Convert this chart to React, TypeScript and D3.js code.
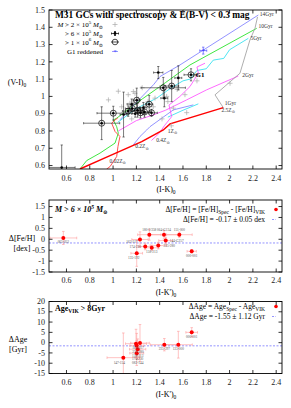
import * as d3 from 'd3';

// ---------- shared axis data ----------
const xTicks = [0.6, 0.8, 1, 1.2, 1.4, 1.6, 1.8, 2, 2.2, 2.4];
const vTicks = [0.6, 0.7, 0.8, 0.9, 1, 1.1, 1.2, 1.3, 1.4, 1.5];
const fehTicks = [-1.5, -1, -0.5, 0, 0.5, 1, 1.5];
const ageTicks = [-15, -10, -5, 0, 5, 10, 15, 20];

// ---------- panel 1: model tracks (I-K, V-I) ----------
const track1Gyr = [[0.716, 0.58], [0.945, 0.649], [1.246, 0.738], [1.431, 0.806], [1.489, 0.841], [1.946, 0.935]];
const track002Z = [[0.945, 0.58], [0.974, 0.594], [1.031, 0.652], [1.042, 0.71], [1.059, 0.768], [1.017, 0.797], [0.988, 0.845], [1.017, 0.864], [1.04, 0.875]];
const track10Gyr = [[0.716, 0.58], [0.774, 0.629], [0.888, 0.672], [1.017, 0.73], [1.045, 0.787], [1.031, 0.825], [1.002, 0.864], [1.031, 0.874], [1.25, 0.985], [1.45, 1.08], [1.66, 1.182], [2.233, 1.394]];
const track14Gyr = [[1.06, 0.865], [1.2, 0.965], [1.35, 1.07], [1.403, 1.115], [1.574, 1.182], [2.247, 1.471]];
const track02Z = [[1.174, 0.72], [1.231, 0.768], [1.289, 0.806], [1.317, 0.825], [1.517, 0.922], [1.689, 0.951]];
const track5Gyr = [[1.04, 0.85], [1.2, 0.93], [1.374, 0.99], [1.5, 1.05], [1.6, 1.09], [1.66, 1.1], [1.72, 1.15], [1.8, 1.16], [1.86, 1.21], [1.95, 1.22], [2.0, 1.27], [2.161, 1.336]];
const track1Z = [[1.47, 0.88], [1.6, 0.92], [1.732, 0.957]];
const track2Gyr = [[1.045, 0.8], [1.2, 0.86], [1.345, 0.893], [1.45, 0.92], [1.632, 0.98], [1.803, 1.038], [2.075, 1.118]];
const track04Z = [[1.33, 0.745], [1.4, 0.79], [1.44, 0.83], [1.503, 0.883], [1.48, 0.95], [1.574, 1.0], [1.66, 1.057], [1.732, 1.134], [1.72, 1.17], [1.789, 1.192]];
const track25Z = [[1.946, 0.935], [1.875, 1.009], [2.089, 1.134], [2.175, 1.327], [2.218, 1.394], [2.24, 1.46]];

const tracks = [
  { pts: track10Gyr, color: '#11e011', w: 0.8 },
  { pts: track14Gyr, color: '#7777ff', w: 0.8 },
  { pts: track02Z, color: '#7777ff', w: 0.8 },
  { pts: track5Gyr, color: '#22ddee', w: 0.8 },
  { pts: track1Z, color: '#22ddee', w: 0.8 },
  { pts: track2Gyr, color: '#ff44ff', w: 0.8 },
  { pts: track04Z, color: '#ff44ff', w: 0.8 },
  { pts: track25Z, color: '#999999', w: 0.8 },
  { pts: track002Z, color: '#ff2222', w: 0.8 },
  { pts: track1Gyr, color: '#ff0000', w: 1.5 },
];

const ageLabels = ['14Gyr', '10Gyr', '5Gyr', '2Gyr', '1Gyr'];
const ageLabelAt = [[2.25, 1.475], [2.24, 1.405], [2.17, 1.34], [2.1, 1.125], [1.95, 0.96]];
const zLabels = ['2.5Z', '1Z', '0.4Z', '0.2Z', '0.02Z'];
const zLabelAt = [[1.93, 0.91], [1.47, 0.79], [1.37, 0.735], [1.19, 0.7], [0.97, 0.615]];

// faint clusters, M > 2e5
const lightGCs = [
  [0.96, 0.98], [1.045, 1.03], [1.074, 0.94], [1.088, 0.905], [1.13, 1.01], [1.13, 0.905], [1.145, 0.96], [1.174, 0.96],
  [1.174, 1.028], [1.188, 1.018], [1.217, 0.984], [1.23, 0.93], [1.26, 0.905], [1.28, 0.95], [1.3, 0.97], [1.345, 0.94],
  [1.36, 0.99], [1.4, 1.05], [1.46, 1.0], [1.47, 0.97], [1.517, 0.932], [1.55, 1.04], [1.617, 1.01], [1.632, 0.906],
  [1.703, 1.124], [1.72, 1.09], [2.004, 1.076], [1.42, 0.87], [1.5, 0.83], [1.16, 0.87], [1.25, 1.05],
];
// M > 6e5 : x, y, xerr, yerr
const midGCs = [
  [0.559, 0.589, 0.115, 0.13], [1.09, 0.895, 0.03, 0.13], [1.16, 0.955, 0.04, 0.03], [1.26, 0.935, 0.03, 0.03],
  [1.388, 1.138, 0.04, 0.035], [1.44, 0.99, 0.03, 0.05], [1.56, 1.107, 0.03, 0.07], [1.19, 0.9, 0.03, 0.02],
];
// M > 1e6
const heavyGCs = [
  [0.902, 0.845, 0.155, 0.095], [1.002, 0.903, 0.14, 0.04], [1.13, 0.915, 0.05, 0.03], [1.165, 0.93, 0.06, 0.03],
  [1.203, 0.978, 0.03, 0.07], [1.21, 0.92, 0.05, 0.04], [1.235, 0.905, 0.04, 0.03], [1.27, 0.91, 0.05, 0.03],
  [1.31, 0.955, 0.03, 0.05], [1.33, 0.905, 0.05, 0.02], [1.431, 1.05, 0.19, 0.06], [1.503, 1.06, 0.06, 0.09],
  [1.669, 1.125, 0.06, 0.035],
];
const g1Reddened = [1.774, 1.265, 0.03, 0.02];

// ---------- panel 2: Δ[Fe/H] ----------
const fehNames = ['065-052', '163-217', '180-2/358', '064-G134', '151-000', '144-G257', '225-280', '158-213', '174-230', '135-192', '000-001'];
const fehX = [0.573, 1.231, 1.311, 1.437, 1.569, 1.452, 1.388, 1.332, 1.276, 1.203, 1.675];
const fehY = [0.06, -0.01, 0.21, 0.21, 0.21, -0.06, -0.29, -0.39, -0.33, -0.64, -0.55];
const fehXerr = [0.115, 0.07, 0.1, 0.12, 0.11, 0.06, 0.07, 0.06, 0.06, 0.05, 0.04];
const fehYerr = [0.3, 0.35, 0.25, 0.2, 0.12, 0.15, 0.15, 0.12, 0.15, 0.6, 0.08];
const fehMean = -0.17;
// label nudges in px (dx, dy) relative to each point
const fehNudge = [[0, 5.5], [-8, 4], [0, -3.5], [0, -3.5], [0, -3.5], [11, 1.3], [11, 1.3], [0, 5.5], [-10, 1.3], [-3, 6], [0, 5.5]];

// ---------- panel 3: ΔAge ----------
const ageNames = ['147-154', '163-217', '225-280', '158-213', '174-230', '082-144', '235-297', '133-000', '000-001'];
const ageX = [1.088, 1.231, 1.197, 1.203, 1.211, 1.203, 1.44, 1.56, 1.675];
const ageY = [-7.3, -0.2, -0.5, -1.5, -3.2, -5.1, -1.0, -1.0, 5.0];
const ageXerr = [0.14, 0.08, 0.09, 0.06, 0.07, 0.06, 0.12, 0.12, 0.05];
const ageYerr = [12, 9, 7, 6, 5, 6, 3, 6.5, 2.3];
const ageMean = -1.55;
const ageNudge = [[-4, 6], [-2, 6.3], [2, 9.3], [1, 10.8], [0, 11], [1, 11], [0, 5.5], [0, 5.5], [0, 5.5]];

const F = "'Liberation Serif', 'DejaVu Serif', serif";
const X = d3.scaleLinear().domain([0.45, 2.45]).range([49, 282]);

function Frame({ y, yTicks, xTickY }: { y: d3.ScaleLinear<number, number>; yTicks: number[]; xTickY: number }) {
  const [y0, y1] = y.range();
  const [x0, x1] = X.range();
  const t = 3.5;
  return (
    <g>
      <rect x={x0} y={y1} width={x1 - x0} height={y0 - y1} fill="none" stroke="#000" strokeWidth={0.9} />
      {xTicks.map((v) => (
        <g key={'x' + v}>
          <line x1={X(v)} x2={X(v)} y1={y0} y2={y0 - t} stroke="#000" strokeWidth={0.8} />
          <line x1={X(v)} x2={X(v)} y1={y1} y2={y1 + t} stroke="#000" strokeWidth={0.8} />
          <text x={X(v)} y={xTickY} textAnchor="middle" fontSize={8} fontFamily={F} fill="#222">{String(v)}</text>
        </g>
      ))}
      {yTicks.map((v) => (
        <g key={'y' + v}>
          <line x1={x0} x2={x0 + t} y1={y(v)} y2={y(v)} stroke="#000" strokeWidth={0.8} />
          <line x1={x1} x2={x1 - t} y1={y(v)} y2={y(v)} stroke="#000" strokeWidth={0.8} />
          <text x={x0 - 4} y={y(v) + 2.7} textAnchor="end" fontSize={8} fontFamily={F} fill="#222">{String(v)}</text>
        </g>
      ))}
    </g>
  );
}

function ErrBar({ cx, cy, dx0, dx1, dy0, dy1, color, cap, w }: any) {
  return (
    <g stroke={color} strokeWidth={w}>
      <line x1={dx0} x2={dx1} y1={cy} y2={cy} />
      <line x1={cx} x2={cx} y1={dy0} y2={dy1} />
      <line x1={dx0} x2={dx0} y1={cy - cap} y2={cy + cap} />
      <line x1={dx1} x2={dx1} y1={cy - cap} y2={cy + cap} />
      <line x1={cx - cap} x2={cx + cap} y1={dy0} y2={dy0} />
      <line x1={cx - cap} x2={cx + cap} y1={dy1} y2={dy1} />
    </g>
  );
}

const Msun = ({ exp, mant }: { exp: string; mant: string }) => (
  <>
    {mant} × 10<tspan dy={-3.2} fontSize={5}>{exp}</tspan><tspan dy={3.2}> </tspan>
    <tspan fontStyle="italic">M</tspan><tspan dy={2} fontSize={5}>⊙</tspan>
  </>
);

function Panel1() {
  const Y = d3.scaleLinear().domain([0.58, 1.5]).range([169, 10]);
  const line = d3.line<number[]>().x((d) => X(d[0])).y((d) => Y(d[1]));
  const clip = 'clipP1';
  return (
    <g>
      <defs>
        <clipPath id={clip}>
          <rect x={49} y={10} width={233} height={159} />
        </clipPath>
      </defs>
      <g clipPath={`url(#${clip})`}>
        {tracks.map((t, i) => (
          <path key={i} d={line(t.pts) || ''} fill="none" stroke={t.color} strokeWidth={t.w} />
        ))}
        {lightGCs.map((d, i) => (
          <g key={'l' + i} stroke="#aaaaaa" strokeWidth={0.7}>
            <line x1={X(d[0]) - 2.5} x2={X(d[0]) + 2.5} y1={Y(d[1])} y2={Y(d[1])} />
            <line x1={X(d[0])} x2={X(d[0])} y1={Y(d[1]) - 2.5} y2={Y(d[1]) + 2.5} />
          </g>
        ))}
        {[...midGCs, ...heavyGCs].map((d, i) => (
          <g key={'m' + i}>
            <ErrBar cx={X(d[0])} cy={Y(d[1])} dx0={X(d[0] - d[2])} dx1={X(d[0] + d[2])} dy0={Y(d[1] - d[3])} dy1={Y(d[1] + d[3])} color="#222" cap={1.1} w={0.6} />
            <circle cx={X(d[0])} cy={Y(d[1])} r={1.3} fill="#000" />
          </g>
        ))}
        {heavyGCs.map((d, i) => (
          <circle key={'h' + i} cx={X(d[0])} cy={Y(d[1])} r={3} fill="none" stroke="#000" strokeWidth={0.7} />
        ))}
        <ErrBar cx={X(g1Reddened[0])} cy={Y(g1Reddened[1])} dx0={X(g1Reddened[0] - g1Reddened[2])} dx1={X(g1Reddened[0] + g1Reddened[2])} dy0={Y(g1Reddened[1] - g1Reddened[3])} dy1={Y(g1Reddened[1] + g1Reddened[3])} color="#5555ff" cap={1.2} w={0.7} />
        <text x={X(g1Reddened[0])} y={Y(g1Reddened[1]) + 2.5} textAnchor="middle" fontSize={7} fill="#3333ff" fontFamily={F}>*</text>
      </g>
      {ageLabels.map((s, i) => (
        <text key={s} x={X(ageLabelAt[i][0]) + 1} y={Y(ageLabelAt[i][1]) + 2} fontSize={5.5} fontFamily={F} fill="#333">{s}</text>
      ))}
      {zLabels.map((s, i) => (
        <text key={s} x={X(zLabelAt[i][0])} y={Y(zLabelAt[i][1])} fontSize={5.5} fontFamily={F} fill="#333">
          {s}<tspan dy={1.5} fontSize={4}>⊙</tspan>
        </text>
      ))}
      <text x={X(1.669) + 4.5} y={Y(1.125) + 2.5} fontSize={7} fontWeight="bold" fontFamily={F}>G1</text>
      <Frame y={Y} yTicks={vTicks} xTickY={181} />
      {/* legend */}
      <text x={55} y={18} fontSize={9.4} fontWeight="bold" fontFamily={F}>M31 GCs with spectroscopy &amp; E(B-V) &lt; 0.3 mag</text>
      <g fontSize={7} fontFamily={F} textAnchor="end">
        <text x={103} y={27}>
          <tspan fontStyle="italic">M</tspan> &gt; <Msun mant="2" exp="5" />
        </text>
        <text x={103} y={36}>&gt; <Msun mant="6" exp="5" /></text>
        <text x={103} y={44.5}>&gt; <Msun mant="1" exp="6" /></text>
        <text x={103} y={54}>G1 reddened</text>
      </g>
      <g stroke="#aaa" strokeWidth={0.7}>
        <line x1={112.5} x2={117.5} y1={24.5} y2={24.5} />
        <line x1={115} x2={115} y1={22} y2={27} />
      </g>
      <ErrBar cx={115} cy={33.5} dx0={111.5} dx1={118.5} dy0={31.5} dy1={35.5} color="#000" cap={1} w={0.7} />
      <circle cx={115} cy={33.5} r={1.4} />
      <circle cx={115} cy={42} r={2.8} fill="none" stroke="#000" strokeWidth={0.7} />
      <line x1={111} x2={119} y1={42} y2={42} stroke="#000" strokeWidth={0.7} />
      <text x={115} y={54} textAnchor="middle" fontSize={7} fill="#3333ff" fontFamily={F}>*</text>
      <line x1={112} x2={118} y1={51.5} y2={51.5} stroke="#5555ff" strokeWidth={0.6} />
      {/* axis labels */}
      <text x={17} y={85} textAnchor="middle" fontSize={8} fontFamily={F}>
        (V-I)<tspan dy={2} fontSize={5.5}>0</tspan>
      </text>
      <text x={166} y={192} textAnchor="middle" fontSize={8} fontFamily={F}>
        (I-K)<tspan dy={2} fontSize={5.5}>0</tspan>
      </text>
    </g>
  );
}

function ResidualPanel({ Y, yTicks, xs, ys, xe, ye, names, nudge, mean, clip, xTickY, xLabelY }: any) {
  const [y0, y1] = Y.range();
  return (
    <g>
      <defs>
        <clipPath id={clip}>
          <rect x={49} y={y1} width={233} height={y0 - y1} />
        </clipPath>
      </defs>
      <g clipPath={`url(#${clip})`}>
        <line x1={49} x2={282} y1={Y(mean)} y2={Y(mean)} stroke="#8888ff" strokeWidth={0.9} strokeDasharray="2,1.5" />
        {xs.map((x: number, i: number) => (
          <ErrBar key={'e' + i} cx={X(x)} cy={Y(ys[i])} dx0={X(x - xe[i])} dx1={X(x + xe[i])} dy0={Y(ys[i] - ye[i])} dy1={Y(ys[i] + ye[i])} color="#ff9a9a" cap={1.3} w={0.6} />
        ))}
        {xs.map((x: number, i: number) => (
          <circle key={'c' + i} cx={X(x)} cy={Y(ys[i])} r={2} fill="#ff0000" />
        ))}
        {xs.map((x: number, i: number) => (
          <text key={'t' + i} x={X(x) + nudge[i][0]} y={Y(ys[i]) + nudge[i][1]} textAnchor="middle" fontSize={3.4} fontFamily={F} fill="#555">{names[i]}</text>
        ))}
      </g>
      <Frame y={Y} yTicks={yTicks} xTickY={xTickY} />
      <text x={166} y={xLabelY} textAnchor="middle" fontSize={8} fontFamily={F}>
        (I-K')<tspan dy={2} fontSize={5.5}>0</tspan>
      </text>
    </g>
  );
}

export default function App() {
  const Yf = d3.scaleLinear().domain([-1.5, 1.8]).range([272, 200]);
  const Ya = d3.scaleLinear().domain([-15, 20]).range([373.5, 301.5]);
  return (
    <div style={{ position: 'absolute', left: 0, top: 0 }}>
      <svg width={291} height={408} viewBox="0 0 291 408" style={{ display: 'block', background: '#fff' }}>
        <Panel1 />

        <ResidualPanel Y={Yf} yTicks={fehTicks} xs={fehX} ys={fehY} xe={fehXerr} ye={fehYerr} names={fehNames} nudge={fehNudge} mean={fehMean} clip="clipP2" xTickY={283} xLabelY={295} />
        <text x={55} y={212} fontSize={8} fontWeight="bold" fontStyle="italic" fontFamily={F}>
          M &gt; 6 × 10<tspan dy={-3.5} fontSize={5.5}>5</tspan><tspan dy={3.5}> M</tspan><tspan dy={2} fontSize={5.5}>⊙</tspan>
        </text>
        <g fontSize={7.5} fontFamily={F} textAnchor="end">
          <text x={265} y={212}>
            Δ[Fe/H] = [Fe/H]<tspan dy={2} fontSize={5.5}>Spec</tspan><tspan dy={-2}> - [Fe/H]</tspan><tspan dy={2} fontSize={5.5}>VIK</tspan>
          </text>
          <text x={265} y={222}>Δ[Fe/H] = -0.17 ±  0.05 dex</text>
        </g>
        <circle cx={276} cy={209.5} r={1.8} fill="#ff0000" />
        <line x1={272} x2={276} y1={219.5} y2={219.5} stroke="#8888ff" strokeWidth={0.9} strokeDasharray="2,1.5" />
        <text x={22} y={241} textAnchor="middle" fontSize={8} fontFamily={F}>Δ[Fe/H]</text>
        <text x={22} y={251} textAnchor="middle" fontSize={8} fontFamily={F}>[dex]</text>

        <ResidualPanel Y={Ya} yTicks={ageTicks} xs={ageX} ys={ageY} xe={ageXerr} ye={ageYerr} names={ageNames} nudge={ageNudge} mean={ageMean} clip="clipP3" xTickY={385} xLabelY={397} />
        <text x={55} y={311} fontSize={8} fontWeight="bold" fontFamily={F}>
          Age<tspan dy={2} fontSize={5.5}>VIK</tspan><tspan dy={-2}> &gt; 8Gyr</tspan>
        </text>
        <g fontSize={7.5} fontFamily={F} textAnchor="end">
          <text x={265} y={309}>
            ΔAge = Age<tspan dy={2} fontSize={5.5}>Spec</tspan><tspan dy={-2}> - Age</tspan><tspan dy={2} fontSize={5.5}>VIK</tspan>
          </text>
          <text x={265} y={319}>ΔAge = -1.55 ±  1.12 Gyr</text>
        </g>
        <circle cx={276} cy={306.5} r={1.8} fill="#ff0000" />
        <line x1={272} x2={276} y1={316.5} y2={316.5} stroke="#8888ff" strokeWidth={0.9} strokeDasharray="2,1.5" />
        <text x={18} y={342} textAnchor="middle" fontSize={8} fontFamily={F}>ΔAge</text>
        <text x={18} y={352} textAnchor="middle" fontSize={8} fontFamily={F}>[Gyr]</text>
      </svg>
    </div>
  );
}
